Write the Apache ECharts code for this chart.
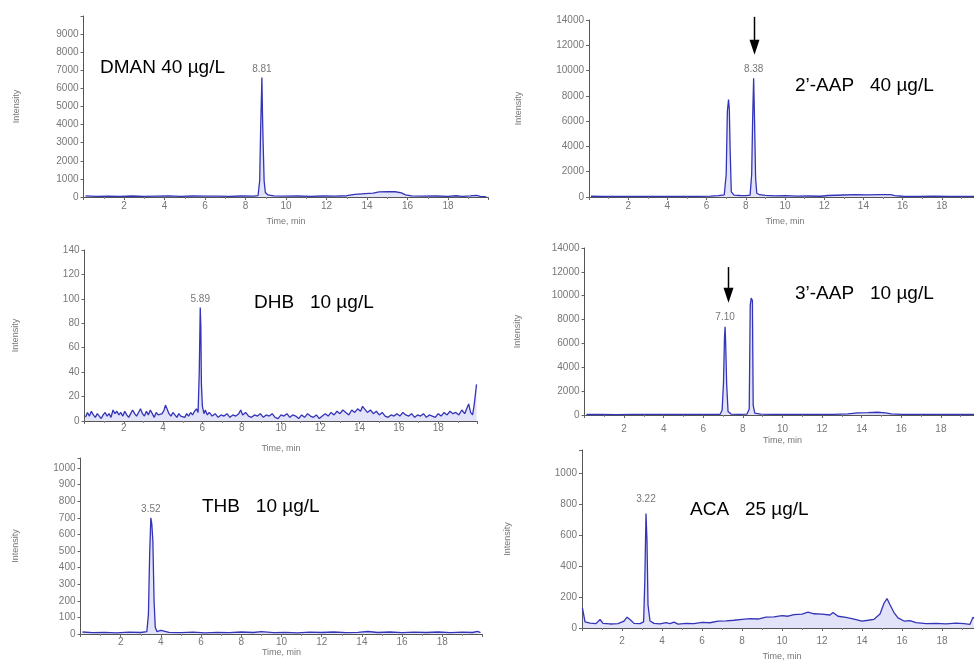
<!DOCTYPE html>
<html>
<head>
<meta charset="utf-8">
<script src="https://cdn.jsdelivr.net/npm/echarts@6/dist/echarts.min.js"></script>
<style>
  html, body { margin: 0; padding: 0; background: #fff; }
  #chart { width: 974px; height: 664px; }
</style>
</head>
<body>
<div id="chart"></div>
<script>
// chromatograms, [time (min), intensity]
const dman = [[0.1,60],[0.6,35],[1.2,50],[1.8,40],[2.4,55],[3.0,35],[3.6,50],[4.2,65],[4.8,40],[5.4,55],[6.0,45],[6.6,50],[7.2,40],[7.8,55],[8.4,50],[8.62,80],[8.7,900],[8.75,3900],[8.78,5200],[8.81,6600],[8.84,4500],[8.87,3000],[8.92,900],[8.98,250],[9.1,120],[9.4,60],[10.0,45],[10.6,55],[11.2,40],[11.8,55],[12.4,50],[13.0,70],[13.4,150],[13.9,190],[14.3,210],[14.6,280],[15.0,300],[15.4,290],[15.7,230],[15.9,120],[16.2,60],[16.8,45],[17.4,55],[18.0,40],[18.4,70],[18.7,40],[19.1,60],[19.4,90],[19.6,30],[19.9,10]]
const aap2 = [[0.1,60],[0.7,40],[1.4,55],[2.1,45],[2.8,50],[3.5,40],[4.2,55],[4.9,45],[5.6,50],[6.2,70],[6.6,110],[6.9,160],[7.0,1800],[7.06,6800],[7.12,7700],[7.16,6900],[7.2,3800],[7.26,400],[7.4,150],[7.7,120],[8.0,110],[8.22,150],[8.3,1800],[8.35,6200],[8.4,9400],[8.45,5800],[8.5,1500],[8.56,300],[8.7,180],[9.0,130],[9.5,90],[10.0,110],[10.6,70],[11.2,80],[11.8,60],[12.2,120],[12.6,140],[13.0,160],[13.6,180],[14.2,170],[14.8,190],[15.4,180],[15.6,110],[16.0,60],[16.8,50],[17.6,60],[18.4,45],[19.2,50],[19.9,40]]
const dhb = [[0.05,3],[0.15,7],[0.25,4],[0.35,8],[0.45,5],[0.55,3],[0.65,6],[0.75,4],[0.85,2],[0.95,5],[1.05,7],[1.15,4],[1.25,6],[1.35,3],[1.45,9],[1.55,6],[1.65,8],[1.75,5],[1.85,7],[1.95,4],[2.05,8],[2.15,5],[2.25,3],[2.35,6],[2.45,9],[2.55,6],[2.65,4],[2.75,7],[2.85,10],[2.95,6],[3.05,4],[3.15,8],[3.25,5],[3.35,9],[3.45,6],[3.55,3],[3.65,7],[3.75,5],[3.85,4],[3.95,6],[4.05,9],[4.12,13],[4.2,12],[4.3,6],[4.4,4],[4.5,7],[4.6,5],[4.7,3],[4.8,6],[4.9,4],[5.0,5],[5.1,3],[5.2,6],[5.3,4],[5.4,7],[5.5,5],[5.6,8],[5.7,10],[5.78,7],[5.84,40],[5.89,93],[5.92,78],[5.95,30],[6.0,12],[6.08,6],[6.15,9],[6.25,5],[6.35,7],[6.5,4],[6.65,6],[6.8,3],[6.95,5],[7.1,4],[7.25,6],[7.4,3],[7.55,5],[7.7,4],[7.85,6],[7.95,9],[8.05,5],[8.2,7],[8.35,4],[8.5,3],[8.65,5],[8.8,4],[8.95,6],[9.1,3],[9.25,5],[9.4,4],[9.55,6],[9.7,3],[9.85,2],[10.0,5],[10.15,4],[10.3,6],[10.45,3],[10.6,5],[10.75,4],[10.9,2],[11.05,5],[11.2,3],[11.35,6],[11.5,4],[11.65,3],[11.8,5],[11.95,2],[12.1,4],[12.25,6],[12.4,4],[12.55,7],[12.7,5],[12.85,8],[13.0,6],[13.15,9],[13.3,7],[13.45,5],[13.6,9],[13.75,7],[13.9,10],[14.05,8],[14.15,12],[14.25,10],[14.4,7],[14.55,9],[14.7,6],[14.85,8],[15.0,5],[15.15,7],[15.3,4],[15.45,3],[15.6,5],[15.75,4],[15.9,6],[16.05,4],[16.2,7],[16.35,5],[16.5,4],[16.65,6],[16.8,3],[16.95,5],[17.1,4],[17.25,6],[17.4,3],[17.55,5],[17.7,4],[17.85,3],[18.0,6],[18.15,4],[18.3,7],[18.45,5],[18.6,8],[18.75,6],[18.9,7],[19.05,5],[19.2,9],[19.35,6],[19.45,10],[19.55,14],[19.65,7],[19.75,5],[19.82,12],[19.88,20],[19.95,30]]
const aap3 = [[0.1,40],[0.8,50],[1.6,35],[2.4,50],[3.2,45],[4.0,55],[4.8,40],[5.6,50],[6.4,45],[6.85,60],[6.95,400],[7.02,2700],[7.07,6500],[7.1,7400],[7.13,6000],[7.18,2600],[7.25,300],[7.4,80],[7.8,60],[8.2,70],[8.32,500],[8.37,9200],[8.42,9800],[8.48,9600],[8.52,800],[8.6,150],[8.9,70],[9.5,50],[10.2,60],[11.0,45],[11.8,55],[12.6,60],[13.3,90],[13.8,180],[14.3,200],[14.8,230],[15.2,180],[15.5,90],[16.0,50],[17.0,45],[18.0,55],[19.0,40],[19.9,50]]
const thb = [[0.1,12],[0.6,8],[1.2,10],[1.8,7],[2.4,11],[3.0,9],[3.3,14],[3.38,120],[3.44,480],[3.5,700],[3.55,660],[3.6,560],[3.66,200],[3.72,40],[3.8,15],[4.0,22],[4.4,10],[5.0,8],[5.6,11],[6.2,7],[6.8,10],[7.4,8],[8.0,12],[8.6,9],[9.0,14],[9.6,8],[10.2,10],[10.8,7],[11.4,11],[12.0,9],[12.6,12],[13.2,8],[13.8,10],[14.3,15],[14.8,9],[15.4,12],[16.0,8],[16.6,11],[17.2,9],[17.8,12],[18.4,8],[19.0,11],[19.5,9],[19.75,16],[19.9,8]]
const aca = [[0.02,130],[0.08,90],[0.15,40],[0.4,32],[0.7,28],[0.9,55],[1.05,30],[1.4,26],[1.8,28],[2.1,45],[2.25,70],[2.4,55],[2.6,30],[2.9,28],[3.08,40],[3.14,300],[3.2,740],[3.25,560],[3.3,150],[3.4,45],[3.6,30],[3.9,26],[4.2,35],[4.4,28],[4.6,38],[4.8,25],[5.2,30],[5.6,28],[6.0,36],[6.4,34],[6.8,44],[7.2,46],[7.6,50],[8.0,56],[8.4,60],[8.8,58],[9.2,70],[9.6,72],[10.0,80],[10.3,76],[10.6,86],[11.0,90],[11.3,102],[11.6,92],[12.0,90],[12.4,84],[12.55,100],[12.8,76],[13.2,68],[13.6,58],[14.0,45],[14.3,50],[14.6,56],[14.9,90],[15.1,160],[15.25,190],[15.4,150],[15.6,100],[15.8,65],[16.1,45],[16.4,48],[16.7,35],[17.2,28],[17.7,30],[18.2,27],[18.7,32],[19.1,28],[19.4,24],[19.55,70],[19.6,60]]

const traces = [dman, aap2, dhb, aap3, thb, aca]
const sampleNames = ['DMAN 40 µg/L', '2’-AAP   40 µg/L', 'DHB   10 µg/L', '3’-AAP   10 µg/L', 'THB   10 µg/L', 'ACA   25 µg/L']
const peakTimes = [8.81, 8.4, 5.89, 7.1, 3.5, 3.2]
const peakValues = [6600, 9400, 93, 7400, 700, 740]
const peakLabels = ['8.81', '8.38', '5.89', '7.10', '3.52', '3.22']
const yMax = [10000, 14000, 140, 14000, 1060, 1150]
const yStep = [1000, 2000, 20, 2000, 100, 200]
const yTopLabel = [9000, 14000, 140, 14000, 1000, 1000]
// arrows: panel, time, top and tip intensity
const arrows = [[1, 8.4, 14250, 11250], [3, 7.25, 12400, 9400]]

// layout
const grids = [
  { left: 83.5, top: 16, width: 405, height: 181 },
  { left: 589, top: 20, width: 392, height: 177 },
  { left: 84.5, top: 250, width: 393, height: 171 },
  { left: 584.5, top: 248, width: 396, height: 167 },
  { left: 80.5, top: 458, width: 402, height: 176 },
  { left: 582, top: 450, width: 400, height: 178 }
]
const xLabelMargin = [4, 4, 2, 9, 3, 8]
const xNameGap = [20, 20, 23, 21, 14, 24]
const yNameGap = [62, 66, 64, 62, 60, 70]
const labelDist = [3, 3, 3, 4, 3, 9]
const textPos = [[100, 68], [795, 85.5], [254, 303], [795, 293.5], [202, 507], [690, 510]]

const blue = '#3434b8'
const gray = '#777'
const font = '"Liberation Sans", Arial, sans-serif'

const chart = echarts.init(document.getElementById('chart'))

const xAxes = grids.map((g, i) => ({
  type: 'value',
  gridIndex: i,
  min: 0,
  max: 20,
  interval: 2,
  name: 'Time, min',
  nameLocation: 'middle',
  nameGap: xNameGap[i],
  nameTextStyle: { fontSize: 9, color: gray, fontFamily: font },
  axisLine: { show: true, lineStyle: { color: '#555', width: 1 } },
  axisTick: { show: true, length: 3, lineStyle: { color: '#666' } },
  minorTick: { show: true, splitNumber: 2, length: 2, lineStyle: { color: '#888' } },
  axisLabel: { showMinLabel: false, showMaxLabel: false, margin: xLabelMargin[i], fontSize: 10, color: gray, fontFamily: font },
  splitLine: { show: false }
}))

const yAxes = grids.map((g, i) => ({
  type: 'value',
  gridIndex: i,
  min: 0,
  max: yMax[i],
  interval: yStep[i],
  name: 'Intensity',
  nameLocation: 'middle',
  nameRotate: 90,
  nameGap: yNameGap[i],
  nameTextStyle: { fontSize: 9, color: gray, fontFamily: font },
  axisLine: { show: true, lineStyle: { color: '#555', width: 1 } },
  axisTick: { show: true, length: 3, lineStyle: { color: '#666' } },
  axisLabel: {
    margin: 5, fontSize: 10, color: gray, fontFamily: font,
    formatter: v => (v % yStep[i] === 0 && v <= yTopLabel[i] ? String(v) : '')
  },
  splitLine: { show: false }
}))

const series = traces.map((d, i) => ({
  type: 'line',
  xAxisIndex: i,
  yAxisIndex: i,
  data: d,
  showSymbol: false,
  symbol: 'none',
  animation: false,
  lineStyle: { color: blue, width: 1.3 },
  areaStyle: { color: 'rgba(120,120,225,0.3)', origin: 'start' },
  markPoint: {
    symbol: 'circle',
    symbolSize: 1,
    animation: false,
    itemStyle: { color: 'rgba(0,0,0,0)' },
    label: { show: true, position: 'top', distance: labelDist[i], formatter: peakLabels[i], fontSize: 10, color: gray, fontFamily: font },
    data: [{ coord: [peakTimes[i], peakValues[i]] }]
  }
}))

chart.setOption({
  backgroundColor: '#fff',
  animation: false,
  textStyle: { fontFamily: font },
  grid: grids.map(g => Object.assign({ containLabel: false, outerBoundsMode: 'none' }, g)),
  xAxis: xAxes,
  yAxis: yAxes,
  series: series
})

// sample names + arrows
const elements = sampleNames.map((s, i) => ({
  type: 'text',
  x: textPos[i][0],
  y: textPos[i][1],
  silent: true,
  style: { text: s, font: '19px ' + font, fill: '#000', verticalAlign: 'middle', align: 'left' }
}))
arrows.forEach(a => {
  const p1 = chart.convertToPixel({ gridIndex: a[0] }, [a[1], a[2]])
  const p2 = chart.convertToPixel({ gridIndex: a[0] }, [a[1], a[3]])
  const x = Math.round(p1[0]) + 0.5
  elements.push({
    type: 'line',
    silent: true,
    shape: { x1: x, y1: p1[1], x2: x, y2: p2[1] - 12 },
    style: { stroke: '#000', lineWidth: 1.5 }
  })
  elements.push({
    type: 'polygon',
    silent: true,
    shape: { points: [[x - 5, p2[1] - 15], [x + 5, p2[1] - 15], [x, p2[1]]] },
    style: { fill: '#000' }
  })
})
chart.setOption({ graphic: elements })
</script>
</body>
</html>
